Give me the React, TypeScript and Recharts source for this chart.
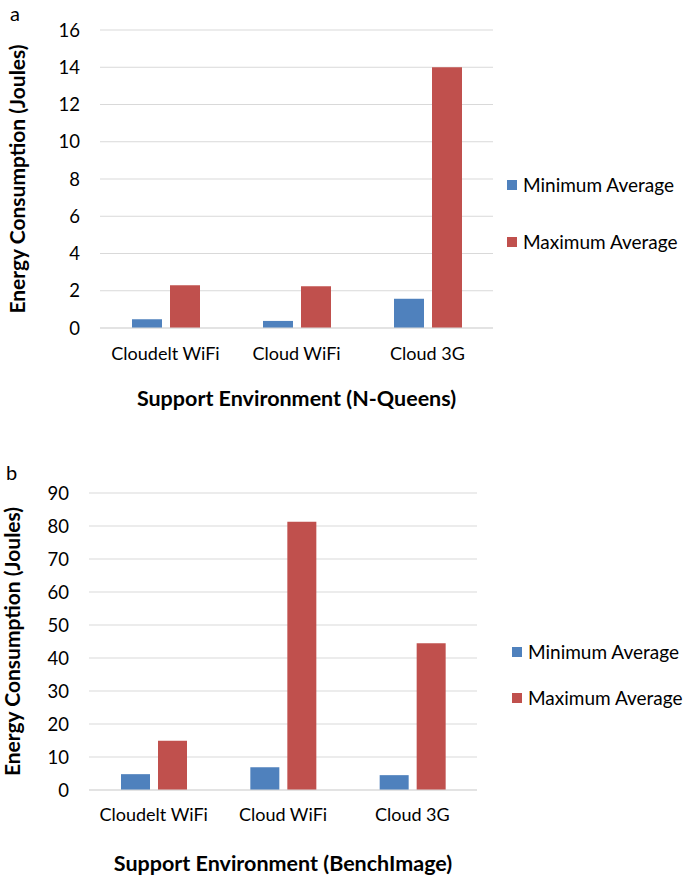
import React from 'react';
import { BarChart, Bar, XAxis, YAxis, CartesianGrid, Label } from 'recharts';

const categories = ['Cloudelt WiFi', 'Cloud WiFi', 'Cloud 3G'];
const seriesNames = ['Minimum Average', 'Maximum Average'];
const seriesColors = ['#4F81BD', '#C0504D'];

const queensMin = [0.47, 0.38, 1.57];
const queensMax = [2.29, 2.24, 14.0];
const queensTicks = [0, 2, 4, 6, 8, 10, 12, 14, 16];

const benchMin = [4.8, 6.9, 4.5];
const benchMax = [14.9, 81.3, 44.5];
const benchTicks = [0, 10, 20, 30, 40, 50, 60, 70, 80, 90];

const FONT = 'Lato, "Open Sans", sans-serif';

const buildRows = (mins: number[], maxs: number[]) =>
  categories.map((name, i) => ({ name, min: mins[i], max: maxs[i] }));

interface PanelProps {
  letter: string;
  mins: number[];
  maxs: number[];
  ticks: number[];
  xTitle: string;
  top: number;
  margin: { top: number; right: number; left: number; bottom: number };
  yWidth: number;
  yTitleOffset: number;
  xTitleOffset: number;
  tickGap: number;
  barSize: number;
  letterPos: { left: number; top: number };
  legendPos: { left: number; top: number; spacing: number };
}

const Panel: React.FC<PanelProps> = (p) => {
  const data = buildRows(p.mins, p.maxs);
  return (
    <div style={{ position: 'absolute', left: 0, top: p.top, width: 685, height: 440 }}>
      <div
        style={{
          position: 'absolute',
          left: p.letterPos.left,
          top: p.letterPos.top,
          fontFamily: FONT,
          fontSize: 20,
          lineHeight: '20px',
          color: '#000',
        }}
      >
        {p.letter}
      </div>
      <BarChart
        width={685}
        height={440}
        data={data}
        margin={p.margin}
        barSize={p.barSize}
        barGap={8}
      >
        <CartesianGrid vertical={false} stroke="#d9d9d9" strokeWidth={1.2} />
        <XAxis
          dataKey="name"
          height={90}
          axisLine={{ stroke: '#d9d9d9', strokeWidth: 1.2 }}
          tickLine={false}
          tickSize={6}
          tickMargin={p.tickGap - 6}
          tick={{ fill: '#000', fontSize: 18, fontFamily: FONT }}
          interval={0}
        >
          <Label
            value={p.xTitle}
            position="insideBottom"
            offset={p.xTitleOffset}
            style={{ fill: '#000', fontSize: 21.5, fontWeight: 700, fontFamily: FONT }}
          />
        </XAxis>
        <YAxis
          width={p.yWidth}
          domain={[0, p.ticks[p.ticks.length - 1]]}
          ticks={p.ticks}
          interval={0}
          axisLine={false}
          tickLine={false}
          tickSize={6}
          tickMargin={14}
          tick={{ fill: '#000', fontSize: 18.5, fontFamily: FONT }}
        >
          <Label
            value="Energy Consumption (Joules)"
            angle={-90}
            position="insideLeft"
            offset={p.yTitleOffset}
            style={{ textAnchor: 'middle', fill: '#000', fontSize: 21, fontWeight: 700, fontFamily: FONT }}
          />
        </YAxis>
        <Bar dataKey="min" name={seriesNames[0]} fill={seriesColors[0]} isAnimationActive={false} />
        <Bar dataKey="max" name={seriesNames[1]} fill={seriesColors[1]} isAnimationActive={false} />
      </BarChart>
      <div
        style={{
          position: 'absolute',
          left: p.legendPos.left,
          top: p.legendPos.top,
          fontFamily: FONT,
          fontSize: 19,
          color: '#000',
        }}
      >
        {seriesNames.map((s, i) => (
          <div
            key={s}
            style={{
              display: 'flex',
              alignItems: 'center',
              height: 20,
              marginBottom: i === 0 ? p.legendPos.spacing - 20 : 0,
              whiteSpace: 'nowrap',
            }}
          >
            <span style={{ width: 10, height: 10, background: seriesColors[i], marginRight: 6, display: 'inline-block' }} />
            <span style={{ lineHeight: '20px' }}>{s}</span>
          </div>
        ))}
      </div>
    </div>
  );
};

export default function App() {
  return (
    <div style={{ position: 'absolute', left: 0, top: 0, width: 685, height: 880, background: '#fff' }}>
      <Panel
        letter="a"
        mins={queensMin}
        maxs={queensMax}
        ticks={queensTicks}
        xTitle="Support Environment (N-Queens)"
        top={0}
        margin={{ top: 30, right: 192, left: 0, bottom: 22 }}
        yWidth={100}
        yTitleOffset={18}
        xTitleOffset={12}
        tickGap={19}
        barSize={30}
        letterPos={{ left: 10, top: 3 }}
        legendPos={{ left: 507, top: 175, spacing: 57 }}
      />
      <Panel
        letter="b"
        mins={benchMin}
        maxs={benchMax}
        ticks={benchTicks}
        xTitle="Support Environment (BenchImage)"
        top={440}
        margin={{ top: 53, right: 208, left: 0, bottom: 0 }}
        yWidth={89}
        yTitleOffset={13}
        xTitleOffset={9}
        tickGap={18}
        barSize={29}
        letterPos={{ left: 6, top: 22 }}
        legendPos={{ left: 512, top: 202, spacing: 46 }}
      />
    </div>
  );
}
